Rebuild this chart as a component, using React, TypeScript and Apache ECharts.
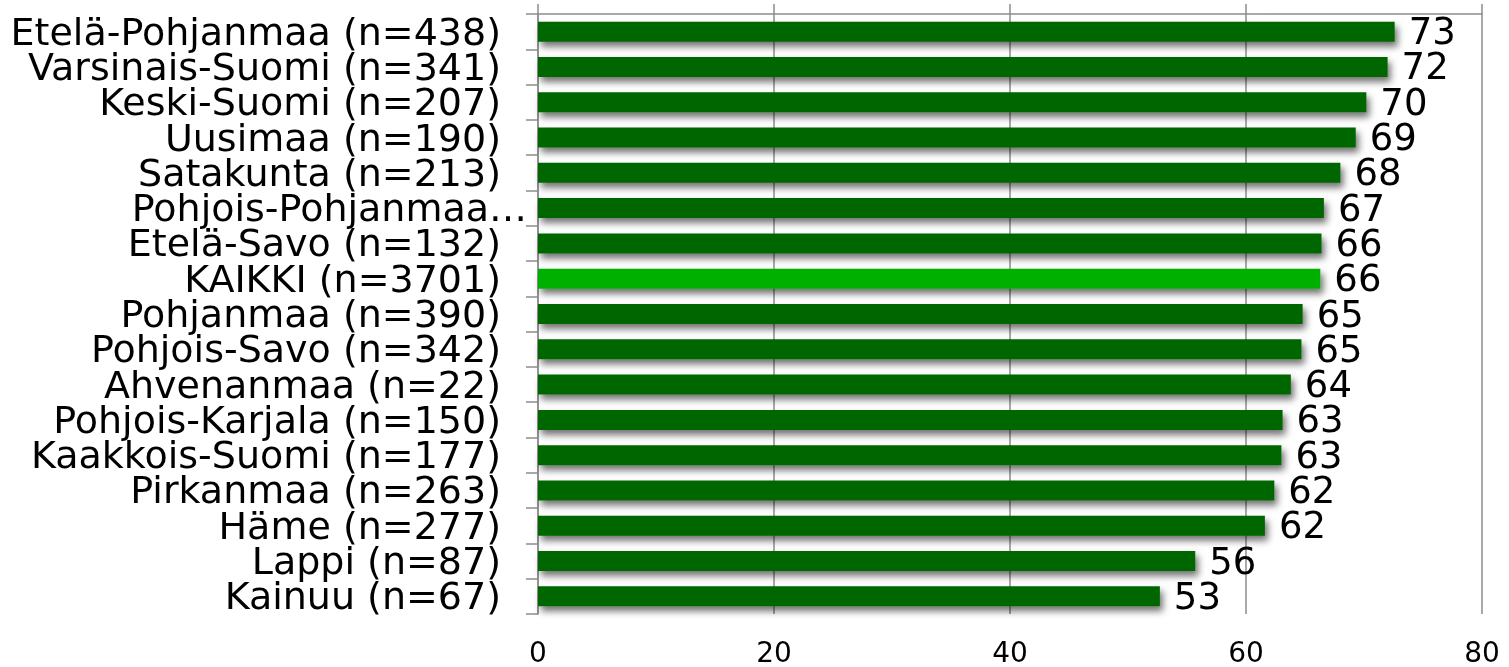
import React, { useEffect, useRef } from "react";
import * as echarts from "echarts";

const categories = [
  "Etelä-Pohjanmaa (n=438)",
  "Varsinais-Suomi (n=341)",
  "Keski-Suomi (n=207)",
  "Uusimaa (n=190)",
  "Satakunta (n=213)",
  "Pohjois-Pohjanmaa…",
  "Etelä-Savo (n=132)",
  "KAIKKI (n=3701)",
  "Pohjanmaa (n=390)",
  "Pohjois-Savo (n=342)",
  "Ahvenanmaa (n=22)",
  "Pohjois-Karjala (n=150)",
  "Kaakkois-Suomi (n=177)",
  "Pirkanmaa (n=263)",
  "Häme (n=277)",
  "Lappi (n=87)",
  "Kainuu (n=67)",
];

const values = [72.6, 72.0, 70.2, 69.3, 68.0, 66.6, 66.4, 66.3, 64.8, 64.7, 63.8, 63.1, 63.0, 62.4, 61.6, 55.7, 52.7];

const highlightCategory = "KAIKKI (n=3701)";
const truncatedCategory = "Pohjois-Pohjanmaa…";

export default function App() {
  const ref = useRef<HTMLDivElement>(null);
  useEffect(() => {
    if (!ref.current) return;
    const chart = echarts.init(ref.current, null, { renderer: "svg" });
    const font = "DejaVu Sans, Verdana, sans-serif";
    const cats = [...categories].reverse();
    const vals = [...values].reverse();
    chart.setOption({
      animation: false,
      grid: { left: 538, right: 27, top: 14, bottom: 53, containLabel: false },
      xAxis: [
        {
          type: "value",
          min: 0,
          max: 80,
          interval: 20,
          position: "bottom",
          axisLine: { show: false },
          axisTick: { show: false },
          splitLine: { show: true, lineStyle: { color: "#8c8c8c", width: 1.5 } },
          axisLabel: { fontFamily: font, fontSize: 28, color: "#000", margin: 24 },
        },
        {
          type: "value",
          min: 0,
          max: 80,
          interval: 20,
          position: "top",
          axisLine: { show: true, lineStyle: { color: "#8c8c8c", width: 1.5 } },
          axisTick: { show: true, length: 10, inside: false, lineStyle: { color: "#8c8c8c", width: 1.5 } },
          splitLine: { show: false },
          axisLabel: { show: false },
        },
      ],
      yAxis: {
        type: "category",
        data: cats,
        axisLine: { show: true, lineStyle: { color: "#8c8c8c", width: 1.5 } },
        axisTick: { show: true, length: 12, lineStyle: { color: "#8c8c8c", width: 1.5 } },
        axisLabel: {
          interval: 0,
          fontFamily: font,
          fontSize: 38,
          color: "#000",
          margin: 11,
          formatter: (v: string) => (v === truncatedCategory ? `{b|${v}}` : `{a|${v}}`),
          rich: {
            a: { fontFamily: font, fontSize: 38, color: "#000", padding: [0, 26, 0, 0] },
            b: { fontFamily: font, fontSize: 38, color: "#000" },
          },
        },
      },
      series: [
        {
          type: "bar",
          xAxisIndex: 0,
          data: vals.map((v, i) => ({
            value: v,
            itemStyle: { color: cats[i] === highlightCategory ? "#00b000" : "#006600" },
          })),
          barWidth: 20,
          itemStyle: {
            shadowColor: "rgba(0,0,0,0.55)",
            shadowBlur: 7,
            shadowOffsetX: 3,
            shadowOffsetY: 5,
          },
          label: {
            show: true,
            position: "right",
            distance: 14,
            fontFamily: font,
            fontSize: 37,
            color: "#000",
            formatter: (p: any) => String(Math.round(p.value)),
          },
        },
      ],
    });
    return () => chart.dispose();
  }, []);
  return <div ref={ref} style={{ position: "fixed", left: 0, top: 0, width: 1509, height: 667 }} />;
}
